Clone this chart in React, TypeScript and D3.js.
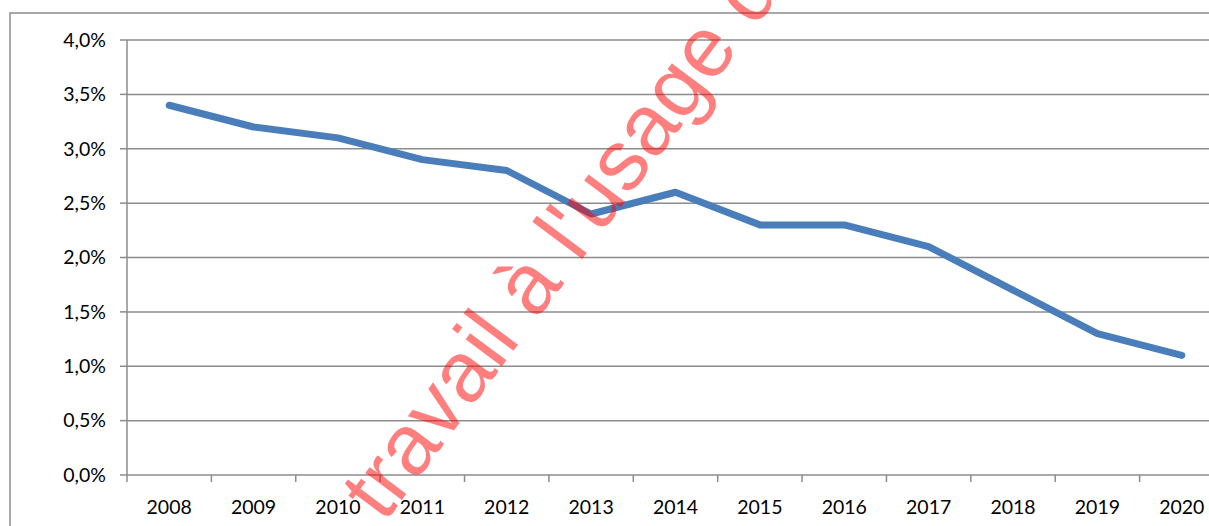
import React, { useEffect, useRef } from "react";
import * as d3 from "d3";

const years = ["2008","2009","2010","2011","2012","2013","2014","2015","2016","2017","2018","2019","2020"];
const rates = [3.4, 3.2, 3.1, 2.9, 2.8, 2.4, 2.6, 2.3, 2.3, 2.1, 1.7, 1.3, 1.1];
const yTicks = [0, 0.5, 1, 1.5, 2, 2.5, 3, 3.5, 4];
const watermark = "travail à l'usage de";

const W = 1209, H = 526;

export default function App() {
  const ref = useRef<SVGSVGElement>(null);
  useEffect(() => {
    document.body.style.margin = "0";
    const svg = d3.select(ref.current);
    svg.selectAll("*").remove();
    const left = 127, right = 1224, top = 40, bottom = 475;
    const x = d3.scaleBand().domain(years).range([left, right]);
    const y = d3.scaleLinear().domain([0, 4]).range([bottom, top]);
    const gray = "#8c8c8c";
    const font = "Lato, 'Open Sans', sans-serif";

    // outer border
    svg.append("rect").attr("x", 10).attr("y", 13).attr("width", 1400).attr("height", 600)
      .attr("fill", "none").attr("stroke", gray).attr("stroke-width", 1.5);

    // gridlines
    svg.append("g").selectAll("line").data(yTicks.filter(d => d > 0)).join("line")
      .attr("x1", left).attr("x2", right).attr("y1", d => y(d)).attr("y2", d => y(d))
      .attr("stroke", gray).attr("stroke-width", 1.5);

    // y axis
    svg.append("line").attr("x1", left).attr("x2", left).attr("y1", top).attr("y2", bottom)
      .attr("stroke", gray).attr("stroke-width", 1.5);
    svg.append("g").selectAll("line").data(yTicks).join("line")
      .attr("x1", left - 7).attr("x2", left).attr("y1", d => y(d)).attr("y2", d => y(d))
      .attr("stroke", gray).attr("stroke-width", 1.5);
    svg.append("g").selectAll("text").data(yTicks).join("text")
      .attr("x", 106).attr("y", d => y(d)).attr("dy", "0.35em")
      .attr("text-anchor", "end").attr("font-family", font).attr("font-size", 19.5).attr("fill", "#000")
      .text(d => d3.format(".1f")(d).replace(".", ",") + "%");

    // x axis
    svg.append("line").attr("x1", left).attr("x2", right).attr("y1", bottom).attr("y2", bottom)
      .attr("stroke", gray).attr("stroke-width", 1.5);
    svg.append("g").selectAll("line").data(years).join("line")
      .attr("x1", d => x(d)!).attr("x2", d => x(d)!).attr("y1", bottom).attr("y2", bottom + 7)
      .attr("stroke", gray).attr("stroke-width", 1.5);
    svg.append("g").selectAll("text").data(years).join("text")
      .attr("x", d => x(d)! + x.bandwidth() / 2).attr("y", 507).attr("dy", "0.35em")
      .attr("text-anchor", "middle").attr("font-family", font).attr("font-size", 19.5).attr("fill", "#000")
      .text(d => d);

    // line
    const line = d3.line<number>()
      .x((_, i) => x(years[i])! + x.bandwidth() / 2)
      .y(d => y(d));
    svg.append("path").datum(rates).attr("d", line)
      .attr("fill", "none").attr("stroke", "#4a7ebb").attr("stroke-width", 7)
      .attr("stroke-linecap", "round").attr("stroke-linejoin", "round");

    // watermark
    svg.append("text").attr("transform", "translate(384,524) rotate(-53.2)")
      .attr("font-family", "'Liberation Sans', Arial, sans-serif").attr("font-size", 86)
      .attr("fill", "rgb(255,0,0)").attr("fill-opacity", 0.5)
      .text(watermark);
  }, []);
  return <svg ref={ref} width={W} height={H} style={{ display: "block" }} />;
}
